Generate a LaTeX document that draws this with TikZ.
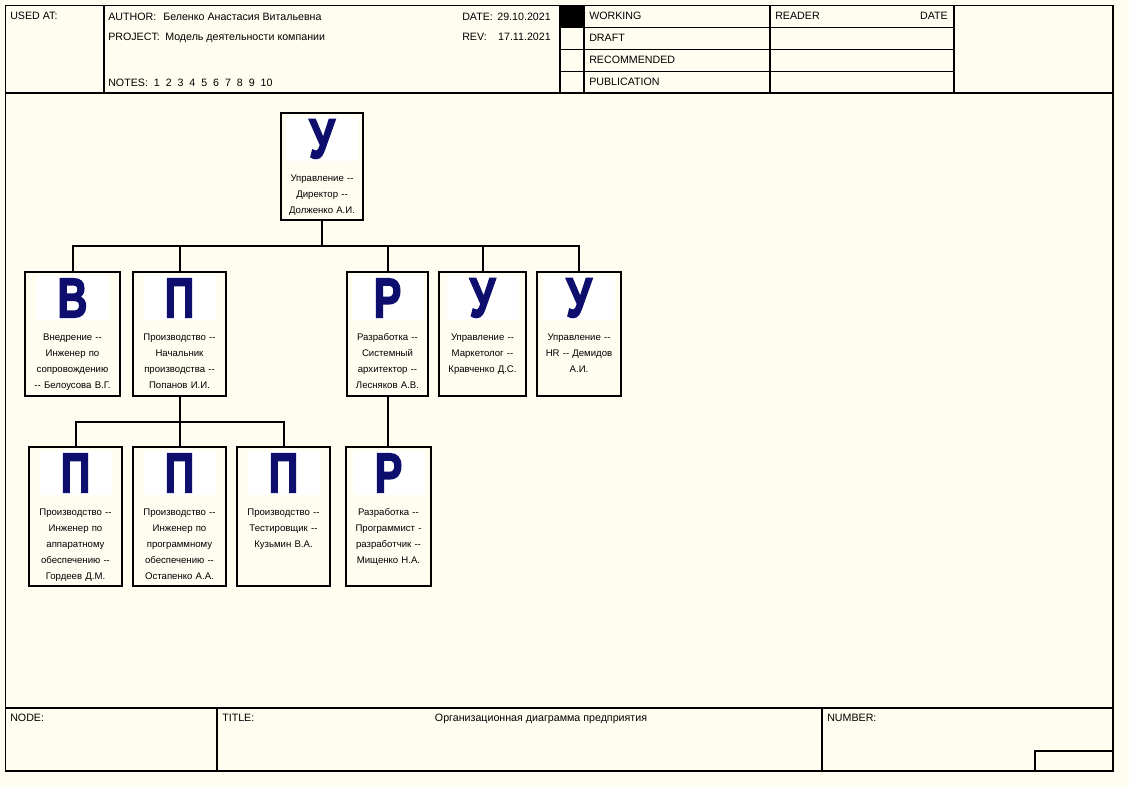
\documentclass[tikz,border=0pt]{standalone}
\usepackage{fontspec}
\setmainfont{Liberation Sans}[Ligatures=TeXOff]
\newfontfamily\bigletterfont{Liberation Sans}[FakeBold=3]
\usetikzlibrary{fit}
\definecolor{paper}{RGB}{255,252,240}
\definecolor{navy}{RGB}{14,14,110}
\newcommand\orgbox[7]{%
  \node[box, fit={(#2,#3) (#4,#5)}] (#1) {};
  \pgfmathsetmacro\owid{min(72,#4-#2-8)}
  \pgfmathsetmacro\ocx{(#2+#4)/2}
  \fill[white] (\ocx-\owid/2,#3+4) rectangle (\ocx+\owid/2,#3+48);
  \node[bigletter] (#1-l) at (\ocx,#3+26) {\scalebox{1.15}[1.55]{#6}};
  \pgfmathsetmacro\otw{(#4-#2-2)*0.75}
  \node[boxtext, text width=\otw pt] (#1-t) at (\ocx,#3+56.5) {\rule{0pt}{8.5pt}#7};
}
\begin{document}
\begin{tikzpicture}[x=0.75pt,y=-0.75pt,
  frame/.style={line width=1.1pt},
  box/.style={draw, line width=1.5pt, inner sep=0pt},
  conn/.style={line width=1.5pt},
  hdr/.style={font=\fontsize{8}{9.6}\selectfont, anchor=base west, inner sep=0pt},
  hdrr/.style={font=\fontsize{8}{9.6}\selectfont, anchor=base east, inner sep=0pt},
  hdrc/.style={font=\fontsize{8}{9.6}\selectfont, anchor=base, inner sep=0pt},
  bigletter/.style={text=navy, font=\fontsize{27}{27}\bigletterfont\bfseries, inner sep=0pt},
  boxtext/.style={font=\fontsize{7.2}{12}\selectfont, align=center, anchor=north, inner sep=0pt}]
\useasboundingbox[fill=paper] (0,0) rectangle (1129,787);
% frame
\draw[frame] (5.5,5.5) rectangle (1113,771);
\draw[frame] (5.5,93) -- (1113,93);
\draw[frame] (5.5,708) -- (1113,708);
\foreach \xx in {104,560,584,770,954} \draw[frame] (\xx,5.5) -- (\xx,93);
\foreach \yy in {27.5,49.5,71.5} \draw[frame] (560,\yy) -- (954,\yy);
\fill[black] (560,5.5) rectangle (584,27.5);
\draw[frame] (217,708) -- (217,771);
\draw[frame] (822,708) -- (822,771);
\draw[frame] (1035,771) -- (1035,751) -- (1113,751);
% header text
\node[hdr] (usedat) at (10,20) {USED AT:};
\node[hdr] (author) at (108,21) {AUTHOR:};
\node[hdr] (authorv) at (163,21) {Беленко Анастасия Витальевна};
\node[hdr] (project) at (108,41) {PROJECT:};
\node[hdr] (projectv) at (165,41) {Модель деятельности компании};
\node[hdr] (date) at (462,21) {DATE:};
\node[hdrr] (datev) at (551,21) {29.10.2021};
\node[hdr] (rev) at (462,41) {REV:};
\node[hdrr] (revv) at (551,41) {17.11.2021};
\node[hdr] (notes) at (108,87) {NOTES:\ \ 1\ \ 2\ \ 3\ \ 4\ \ 5\ \ 6\ \ 7\ \ 8\ \ 9\ \ 10};
\node[hdr] (working) at (589,20) {WORKING};
\node[hdr] (draft) at (589,42) {DRAFT};
\node[hdr] (recommended) at (589,64) {RECOMMENDED};
\node[hdr] (publication) at (589,86) {PUBLICATION};
\node[hdr] (reader) at (775,20) {READER};
\node[hdrr] (rdate) at (948,20) {DATE};
% footer text
\node[hdr] (nodel) at (10,721) {NODE:};
\node[hdr] (titlel) at (222,721) {TITLE:};
\node[hdrc] (title) at (541,721) {Организационная диаграмма предприятия};
\node[hdr] (numberl) at (827,721) {NUMBER:};
% org boxes
\orgbox{top}{281}{113}{363}{220}{У}{Управление --\\Директор --\\Долженко А.И.}
\orgbox{b1}{25}{272}{120}{396}{В}{Внедрение --\\Инженер по\\сопровождению\\-- Белоусова В.Г.}
\orgbox{b2}{133}{272}{226}{396}{П}{Производство --\\Начальник\\производства --\\Попанов И.И.}
\orgbox{b3}{347}{272}{428}{396}{Р}{Разработка --\\Системный\\архитектор --\\Лесняков А.В.}
\orgbox{b4}{439}{272}{526}{396}{У}{Управление --\\Маркетолог --\\Кравченко Д.С.}
\orgbox{b5}{537}{272}{621}{396}{У}{Управление --\\HR -- Демидов\\А.И.}
\orgbox{c1}{29}{447}{122}{586}{П}{Производство --\\Инженер по\\аппаратному\\обеспечению --\\Гордеев Д.М.}
\orgbox{c2}{133}{447}{226}{586}{П}{Производство --\\Инженер по\\программному\\обеспечению --\\Остапенко А.А.}
\orgbox{c3}{237}{447}{330}{586}{П}{Производство --\\Тестировщик --\\Кузьмин В.А.}
\orgbox{c4}{346}{447}{431}{586}{Р}{Разработка --\\Программист -\\разработчик --\\Мищенко Н.А.}
% connectors
\coordinate (bus1) at (0,246);
\coordinate (bus2) at (0,422);
\draw[conn] (top.south) -- (top.south |- bus1);
\draw[conn] (b1.north) |- (b5.north |- bus1) -- (b5.north);
\foreach \n in {b2,b3,b4} \draw[conn] (\n.north) -- (\n.north |- bus1);
\draw[conn] (b2.south) -- (b2.south |- bus2);
\draw[conn] (c1.north) |- (c3.north |- bus2) -- (c3.north);
\draw[conn] (c2.north) -- (c2.north |- bus2);
\draw[conn] (b3.south) -- (b3.south |- c4.north);
\end{tikzpicture}
\end{document}
